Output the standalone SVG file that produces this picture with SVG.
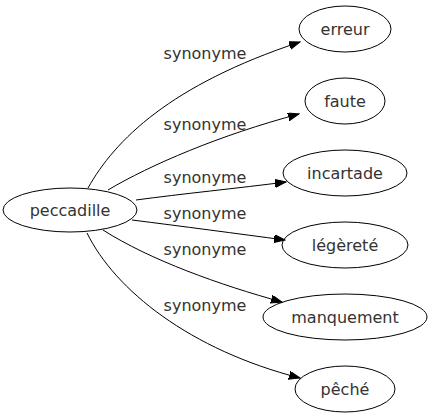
<svg xmlns="http://www.w3.org/2000/svg" width="432" height="419" viewBox="0 0 432 419">
<defs>
<style>
.node ellipse{fill:none;stroke:#000;stroke-width:1}
.node text{font-family:"DejaVu Sans",sans-serif;font-size:16px;fill:#333;text-anchor:middle}
.edges path{fill:none;stroke:#000;stroke-width:1}
.edges text{font-family:"DejaVu Sans",sans-serif;font-size:16px;fill:#333;text-anchor:middle}
</style>
<marker id="arr" markerUnits="userSpaceOnUse" markerWidth="12" markerHeight="9" refX="11" refY="4" orient="auto">
<path d="M0,0 L11,4 L0,8 z" fill="#000" stroke="#000" stroke-width="1"/>
</marker>
</defs>
<rect width="432" height="419" fill="#fff"/>
<g class="edges">
<path d="M88,188 C115,140 170,85 300,42" marker-end="url(#arr)"/>
<text x="205" y="59">synonyme</text>
<path d="M108,190 C150,165 220,135 299,114" marker-end="url(#arr)"/>
<text x="205" y="130">synonyme</text>
<path d="M136,200 C180,194 240,188 286,182" marker-end="url(#arr)"/>
<text x="205" y="183">synonyme</text>
<path d="M132,220 C180,226 240,234 285,240" marker-end="url(#arr)"/>
<text x="205" y="219">synonyme</text>
<path d="M103,230 C150,260 220,285 282,302" marker-end="url(#arr)"/>
<text x="205" y="255">synonyme</text>
<path d="M87,233 C115,290 190,350 300,378" marker-end="url(#arr)"/>
<text x="205" y="311">synonyme</text>
</g>
<g id="peccadille" class="node"><ellipse cx="70" cy="210" rx="67" ry="22"/><text x="70" y="216">peccadille</text></g>
<g id="erreur" class="node"><ellipse cx="345" cy="29" rx="46" ry="23"/><text x="345" y="35">erreur</text></g>
<g id="faute" class="node"><ellipse cx="345" cy="101" rx="40" ry="23"/><text x="345" y="107">faute</text></g>
<g id="incartade" class="node"><ellipse cx="345" cy="173" rx="62" ry="23"/><text x="345" y="179">incartade</text></g>
<g id="legerete" class="node"><ellipse cx="345" cy="245" rx="63" ry="23"/><text x="345" y="251">légèreté</text></g>
<g id="manquement" class="node"><ellipse cx="345" cy="317" rx="82" ry="23"/><text x="345" y="323">manquement</text></g>
<g id="peche" class="node"><ellipse cx="345" cy="389" rx="50" ry="23"/><text x="345" y="395">pêché</text></g>
</svg>
